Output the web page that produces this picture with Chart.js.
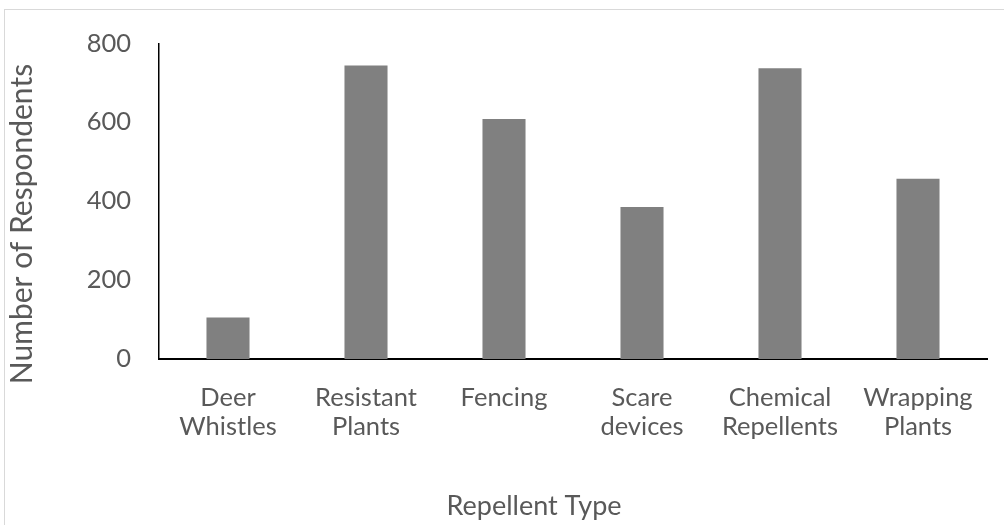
<!DOCTYPE html>
<html>
<head>
<meta charset="utf-8">
<script src="https://cdn.jsdelivr.net/npm/chart.js@4/dist/chart.umd.min.js"></script>
<style>
  html, body { margin: 0; padding: 0; width: 1004px; height: 525px; overflow: hidden; background: #fff; }
  #frame { position: absolute; left: 4px; top: 9px; width: 1100px; height: 600px; border: 1px solid #d9d9d9; box-sizing: border-box; }
  #wrap { position: absolute; left: 0; top: 0; width: 1004px; height: 525px; }
</style>
</head>
<body>
<div id="frame"></div>
<div id="wrap"><canvas id="c" width="1004" height="525"></canvas></div>
<script>
const categories = [["Deer", "Whistles"], ["Resistant", "Plants"], "Fencing", ["Scare", "devices"], ["Chemical", "Repellents"], ["Wrapping", "Plants"]];
const respondents = [105, 744, 608, 385, 737, 457];
const yTicks = [0, 200, 400, 600, 800];
const yTitle = "Number of Respondents";
const xTitle = "Repellent Type";

const FONT = "Lato, 'Open Sans', sans-serif";
const TXT = "#595959";

// Axis titles placed like the original (centred on the whole chart, not only the plot)
const axisTitles = {
  id: 'axisTitles',
  afterDraw(chart) {
    const ctx = chart.ctx;
    ctx.save();
    ctx.fillStyle = TXT;
    ctx.textAlign = 'center';
    ctx.textBaseline = 'middle';
    ctx.font = "30px " + FONT;
    ctx.translate(22, 224);
    ctx.rotate(-Math.PI / 2);
    ctx.fillText(yTitle, 0, 0);
    ctx.restore();
    ctx.save();
    ctx.fillStyle = TXT;
    ctx.textAlign = 'center';
    ctx.textBaseline = 'middle';
    ctx.font = "27px " + FONT;
    ctx.fillText(xTitle, 534, 506);
    ctx.restore();
  }
};

new Chart(document.getElementById('c'), {
  type: 'bar',
  data: {
    labels: categories,
    datasets: [{
      data: respondents,
      backgroundColor: '#808080',
      borderWidth: 0,
      categoryPercentage: 1.0,
      barPercentage: 0.312
    }]
  },
  plugins: [axisTitles],
  options: {
    responsive: false,
    animation: false,
    devicePixelRatio: 1,
    layout: { padding: { left: 0, right: 17, top: 42, bottom: 0 } },
    plugins: { legend: { display: false }, tooltip: { enabled: false } },
    scales: {
      x: {
        grid: { display: false, drawTicks: false },
        border: { display: true, color: '#000000', width: 2 },
        ticks: { color: TXT, font: { family: FONT, size: 25.5, lineHeight: 1.15 }, padding: 24, maxRotation: 0, autoSkip: false },
        afterFit: (s) => { s.height = 166; }
      },
      y: {
        min: 0, max: 800,
        afterBuildTicks: (s) => { s.ticks = yTicks.map(v => ({ value: v })); },
        grid: { display: false, drawTicks: false },
        border: { display: true, color: '#000000', width: 1.5 },
        ticks: { color: TXT, font: { family: FONT, size: 25.5 }, padding: 28 },
        afterFit: (s) => { s.width = 159; }
      }
    }
  }
});
</script>
</body>
</html>
